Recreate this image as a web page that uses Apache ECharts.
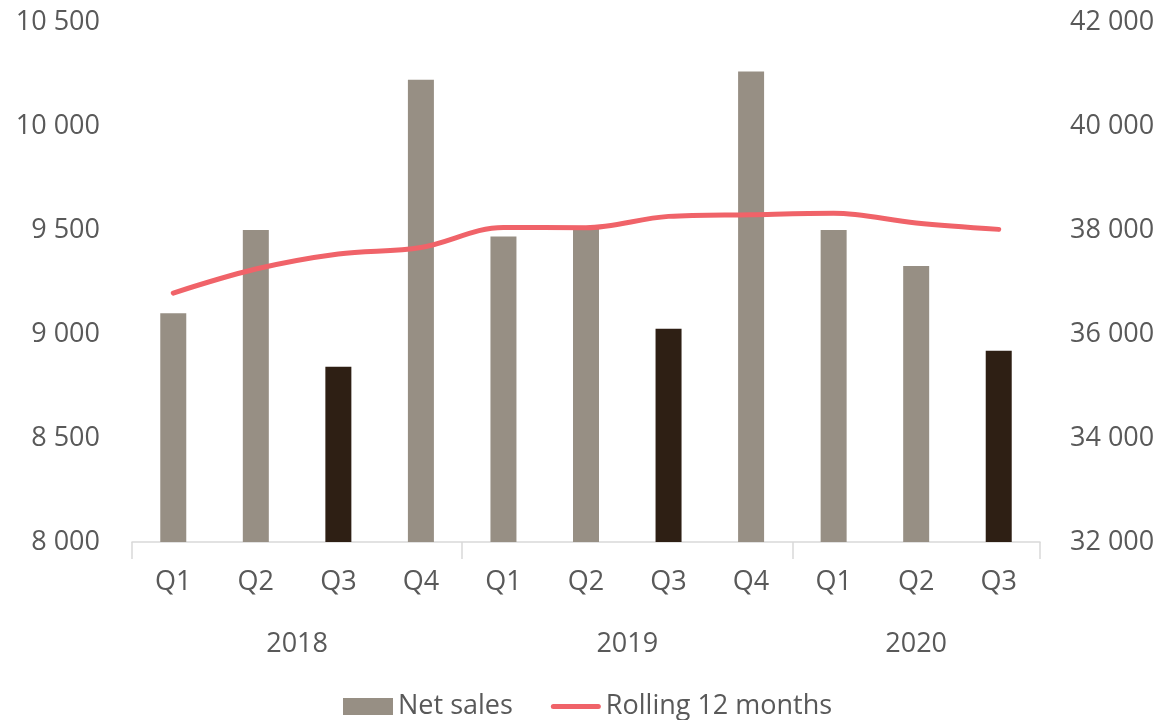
<!DOCTYPE html>
<html>
<head>
<meta charset="utf-8">
<script src="https://cdn.jsdelivr.net/npm/echarts@6/dist/echarts.min.js"></script>
<style>
  html, body { margin: 0; padding: 0; background: #fff; }
  #chart { width: 1165px; height: 720px; }
</style>
</head>
<body>
<div id="chart"></div>
<script>
// quarters on the first axis row, years underneath
var quarters = ['Q1', 'Q2', 'Q3', 'Q4', 'Q1', 'Q2', 'Q3', 'Q4', 'Q1', 'Q2', 'Q3'];
var years = ['2018', '2019', '2020'];
var quartersPerYear = [4, 4, 3];

// values
var netSales = [9100, 9500, 8842, 10222, 9469, 9505, 9025, 10262, 9500, 9327, 8919];
var rolling12 = [36787, 37249, 37538, 37665, 38050, 38045, 38262, 38295, 38320, 38135, 38012];

var textColor = '#595959';
var fontFam = '"Open Sans", sans-serif';

// year row: a half-quarter grid, so group centres and borders fall on points
var halfSlots = [];
var yearLabelAt = {};
var yearBorderAt = {0: true};
var pos = 0;
for (var i = 0; i < years.length; i++) {
    yearLabelAt[pos + quartersPerYear[i]] = years[i];
    pos += quartersPerYear[i] * 2;
    yearBorderAt[pos] = true;
}
for (var k = 0; k <= pos; k++) {
    halfSlots.push(yearLabelAt[k] || '');
}

var myChart = echarts.init(document.getElementById('chart'));

var option = {
    animation: false,
    grid: {
        left: 132,
        right: 125,
        top: 22,
        bottom: 178
    },
    legend: {
        left: 338,
        top: 688,
        itemWidth: 50,
        itemHeight: 17,
        itemGap: 38,
        textStyle: {
            fontSize: 27,
            color: textColor,
            fontFamily: fontFam
        },
        data: [
            { name: 'Net sales', icon: 'rect' },
            // plain thick line with round ends, no marker
            { name: 'Rolling 12 months', icon: 'path://M2.5,0 L47.5,0 A2.5,2.5 0 0 1 47.5,5 L2.5,5 A2.5,2.5 0 0 1 2.5,0 Z' }
        ]
    },
    xAxis: [
        {
            type: 'category',
            data: quarters,
            axisLine: { lineStyle: { color: '#d9d9d9', width: 1.5 } },
            axisTick: { show: false },
            axisLabel: {
                margin: 27,
                fontSize: 27,
                color: textColor,
                fontFamily: fontFam
            }
        },
        {
            type: 'category',
            position: 'bottom',
            boundaryGap: false,
            data: halfSlots,
            axisLine: { show: false },
            axisTick: {
                show: true,
                length: 17,
                lineStyle: { color: '#d9d9d9', width: 1.5 },
                interval: function (idx) { return !!yearBorderAt[idx]; }
            },
            axisLabel: {
                margin: 89,
                fontSize: 27,
                color: textColor,
                fontFamily: fontFam,
                interval: function (idx, val) { return val !== ''; }
            }
        }
    ],
    yAxis: [
        {
            type: 'value',
            min: 8000,
            max: 10500,
            interval: 500,
            splitLine: { show: false },
            axisLine: { show: false },
            axisTick: { show: false },
            axisLabel: {
                margin: 32,
                fontSize: 27,
                color: textColor,
                fontFamily: fontFam,
                formatter: function (v) { return String(v).replace(/\B(?=(\d{3})+(?!\d))/g, ' '); }
            }
        },
        {
            type: 'value',
            min: 32000,
            max: 42000,
            interval: 2000,
            splitLine: { show: false },
            axisLine: { show: false },
            axisTick: { show: false },
            axisLabel: {
                margin: 30,
                fontSize: 27,
                color: textColor,
                fontFamily: fontFam,
                formatter: function (v) { return String(v).replace(/\B(?=(\d{3})+(?!\d))/g, ' '); }
            }
        }
    ],
    series: [
        {
            name: 'Net sales',
            type: 'bar',
            barWidth: 26,
            itemStyle: { color: '#978f84' },
            data: netSales.map(function (v, i) {
                // third quarters are drawn dark
                return quarters[i] === 'Q3' ? { value: v, itemStyle: { color: '#2e1f14' } } : v;
            })
        },
        {
            name: 'Rolling 12 months',
            type: 'line',
            yAxisIndex: 1,
            smooth: 0.35,
            symbol: 'none',
            lineStyle: { color: '#f06369', width: 5, cap: 'round' },
            itemStyle: { color: '#f06369' },
            data: rolling12
        }
    ]
};
myChart.setOption(option);
</script>
</body>
</html>
